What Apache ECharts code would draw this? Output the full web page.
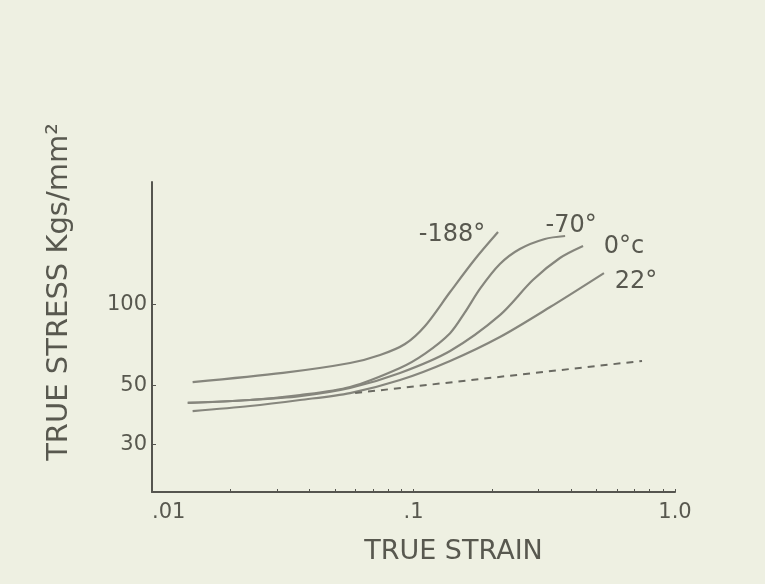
<!DOCTYPE html>
<html>
<head>
<meta charset="utf-8">
<script src="https://cdn.jsdelivr.net/npm/echarts@6/dist/echarts.min.js"></script>
<style>
  html, body { margin: 0; padding: 0; background: #eef0e2; }
  #chart { width: 765px; height: 584px; }
</style>
</head>
<body>
<div id="chart"></div>
<script>
// tick positions and labels
const strainLabelValues = [0.01, 0.1, 1]
const strainTickValues = [0.02, 0.03, 0.04, 0.05, 0.06, 0.07, 0.08, 0.09, 0.1,
  0.2, 0.3, 0.4, 0.5, 0.6, 0.7, 0.8, 0.9, 1]
const stressTickValues = [30, 50, 100]

// curves (true strain, true stress)
const strainM188 = [0.0143, 0.0317, 0.0572, 0.0745, 0.0928, 0.1107, 0.138, 0.172, 0.2105]
const stressM188 = [51.3, 55.5, 60.4, 64.7, 71.1, 83.0, 111.0, 147.3, 185.6]

const strainM70 = [0.0137, 0.0237, 0.0368, 0.0572, 0.0888, 0.1107, 0.138, 0.157, 0.180, 0.214, 0.255, 0.318, 0.380]
const stressM70 = [42.9, 44.0, 45.9, 49.2, 57.9, 65.5, 78.0, 93.0, 114.5, 141.1, 160.5, 174.9, 179.4]

const strain0 = [0.0137, 0.0237, 0.0368, 0.0572, 0.0888, 0.138, 0.214, 0.286, 0.363, 0.445]
const stress0 = [42.9, 44.0, 45.5, 48.8, 55.5, 67.0, 91.1, 123.0, 148.6, 164.7]

const strain22 = [0.0143, 0.0237, 0.0368, 0.0572, 0.0888, 0.138, 0.214, 0.333, 0.535]
const stress22 = [40.0, 41.8, 44.0, 46.7, 52.2, 61.5, 75.5, 97.6, 130.6]

const strainDash = [0.0598, 0.748]
const stressDash = [46.7, 61.5]

const axisColor = '#55554f'
const lineColor = '#86867d'
const textColor = '#58584f'
const font = 'DejaVu Sans'

function curve(name, xs, ys, off) {
  return {
    name: name,
    type: 'line',
    smooth: 0.3,
    symbol: 'none',
    data: xs.map((x, i) => [x, ys[i]]),
    lineStyle: { color: lineColor, width: 2.2 },
    markPoint: {
      symbol: 'circle',
      symbolSize: 0,
      silent: true,
      data: [{ coord: [xs[xs.length - 1], ys[ys.length - 1]] }],
      label: {
        show: true, position: 'inside', offset: off, formatter: name,
        color: textColor, fontSize: 24, fontFamily: font
      }
    }
  }
}

const chart = echarts.init(document.getElementById('chart'))

chart.setOption({
  backgroundColor: '#eef0e2',
  animation: false,
  grid: { left: 152, right: 90, top: 182, bottom: 92 },
  xAxis: {
    type: 'log',
    min: 0.01,
    max: 1,
    name: 'TRUE STRAIN',
    nameLocation: 'middle',
    nameGap: 46,
    nameTextStyle: { color: textColor, fontSize: 27, fontFamily: font, padding: [0, 0, 0, 80] },
    axisLine: { lineStyle: { color: axisColor, width: 2 } },
    axisTick: { inside: true, length: 3, customValues: strainTickValues, lineStyle: { color: axisColor } },
    axisLabel: {
      customValues: strainLabelValues,
      alignMinLabel: 'left',
      margin: 10,
      color: textColor, fontSize: 21, fontFamily: font,
      formatter: v => {
        const p = Math.round(Math.log10(v))
        return p === -2 ? '.01' : p === -1 ? '.1' : '1.0'
      }
    },
    splitLine: { show: false },
    minorTick: { show: false }
  },
  yAxis: {
    type: 'log',
    min: 20,
    max: 285,
    name: 'TRUE STRESS Kgs/mm²',
    nameLocation: 'middle',
    nameGap: 78,
    nameTextStyle: { color: textColor, fontSize: 29, fontFamily: font, padding: [0, 0, 0, 90] },
    axisLine: { lineStyle: { color: axisColor, width: 2 } },
    axisTick: { inside: true, length: 4, customValues: stressTickValues, lineStyle: { color: axisColor } },
    axisLabel: {
      customValues: stressTickValues,
      margin: 5,
      color: textColor, fontSize: 21, fontFamily: font
    },
    splitLine: { show: false }
  },
  series: [
    curve('-188°', strainM188, stressM188, [-46, 3]),
    curve('-70°', strainM70, stressM70, [6, -10]),
    curve('0°c', strain0, stress0, [41, 1]),
    curve('22°', strain22, stress22, [32, 9]),
    {
      name: 'dash',
      type: 'line',
      symbol: 'none',
      data: strainDash.map((x, i) => [x, stressDash[i]]),
      lineStyle: { color: '#6a6a62', width: 2, type: [7, 6] }
    }
  ]
})
</script>
</body>
</html>
